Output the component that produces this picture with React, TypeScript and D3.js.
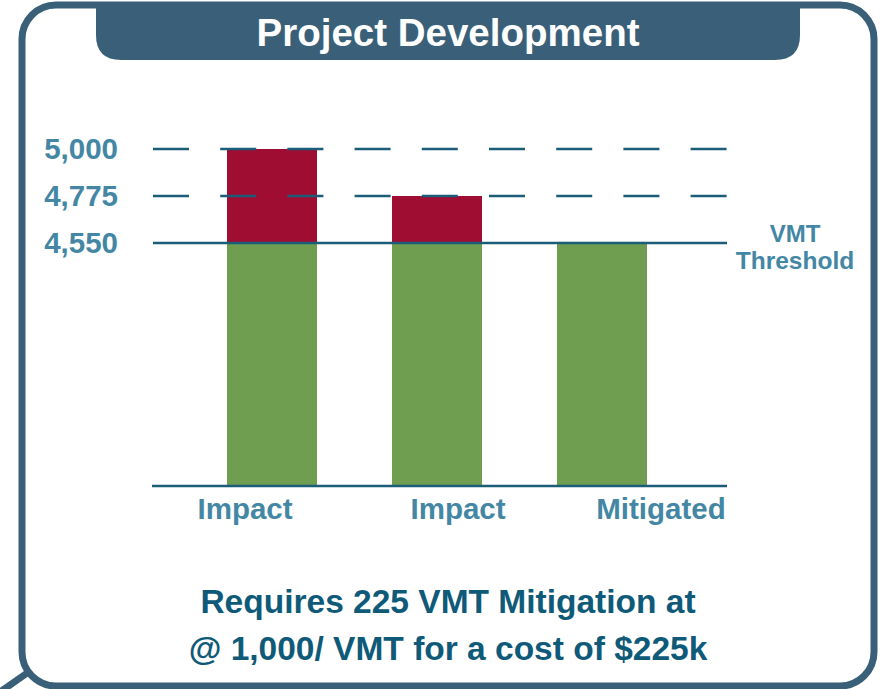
import * as React from 'react';
import * as d3 from 'd3';

const categories = ['Impact', 'Impact', 'Mitigated'];
const baseValues = [4550, 4550, 4555];
const excessValues = [450, 225, 0];
const tickValues = [5000, 4775, 4550];
const threshold = 4550;
const axisFloor = 3387; // axis is broken, bars start here

const W = 884;
const H = 689;
const frameColor = '#3a6079';
const lineColor = '#1b5d79';
const labelColor = '#4387a5';
const noteColor = '#0f5a79';
const font = '"Liberation Sans", Arial, Helvetica, sans-serif';

export default function App() {
  const y = d3.scaleLinear().domain([axisFloor, 5000]).range([486, 149]);
  const x = d3
    .scaleBand<number>()
    .domain(categories.map((_, i) => i))
    .range([189.5, 684.5])
    .paddingInner(0.4545)
    .paddingOuter(0.2273);

  const lineX0 = 153;
  const lineX1 = 727;
  const labelX = [245, 458, 661];

  return (
    <svg width={W} height={H} style={{ position: 'absolute', left: 0, top: 0 }} fontFamily={font}>
      <rect width={W} height={H} fill="#fff" />

      {/* frame */}
      <rect x={22} y={5} width={852} height={681} rx={34} fill="none" stroke={frameColor} strokeWidth={7} />
      <line x1={0} y1={692} x2={30} y2={671} stroke={frameColor} strokeWidth={7} />
      <path d="M96,4 L800,4 L800,35 Q800,60 775,60 L121,60 Q96,60 96,35 Z" fill={frameColor} />
      <text x={448} y={46} textAnchor="middle" fill="#fff" fontSize={38.5} fontWeight="bold">
        Project Development
      </text>

      {/* bars */}
      {categories.map((c, i) => (
        <g key={i}>
          <rect
            x={x(i)}
            y={y(baseValues[i])}
            width={x.bandwidth()}
            height={y(axisFloor) - y(baseValues[i])}
            fill="#6f9e50"
          />
          {excessValues[i] > 0 && (
            <rect
              x={x(i)}
              y={y(baseValues[i] + excessValues[i])}
              width={x.bandwidth()}
              height={y(baseValues[i]) - y(baseValues[i] + excessValues[i])}
              fill="#a00d32"
            />
          )}
        </g>
      ))}

      {/* reference lines */}
      {tickValues.map((t) => (
        <line
          key={t}
          x1={lineX0}
          x2={lineX1}
          y1={y(t)}
          y2={y(t)}
          stroke={lineColor}
          strokeWidth={2.5}
          strokeDasharray={t === threshold ? undefined : '36 31.2'}
        />
      ))}
      <line x1={lineX0 - 1} x2={lineX1} y1={y(axisFloor)} y2={y(axisFloor)} stroke={lineColor} strokeWidth={2.5} />

      {/* tick labels */}
      {tickValues.map((t) => (
        <text key={t} x={118} y={y(t) + 10} textAnchor="end" fill={labelColor} fontSize={29.5} fontWeight="bold">
          {d3.format(',')(t)}
        </text>
      ))}

      <text x={795} y={242} textAnchor="middle" fill={labelColor} fontSize={24} fontWeight="bold">
        VMT
      </text>
      <text x={795} y={269} textAnchor="middle" fill={labelColor} fontSize={24.5} fontWeight="bold">
        Threshold
      </text>

      {/* category labels */}
      {categories.map((c, i) => (
        <text key={i} x={labelX[i]} y={519} textAnchor="middle" fill={labelColor} fontSize={29.5} fontWeight="bold">
          {c}
        </text>
      ))}

      <text x={448} y={613} textAnchor="middle" fill={noteColor} fontSize={33.5} fontWeight="bold">
        Requires 225 VMT Mitigation at
      </text>
      <text x={448} y={660} textAnchor="middle" fill={noteColor} fontSize={33.5} fontWeight="bold">
        @ 1,000/ VMT for a cost of $225k
      </text>
    </svg>
  );
}
